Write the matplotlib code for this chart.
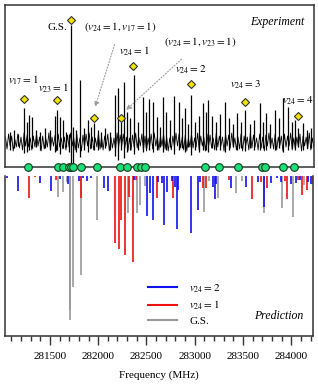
import numpy as np
import matplotlib
matplotlib.use('Agg')
import matplotlib.pyplot as plt
from matplotlib.lines import Line2D
from matplotlib.ticker import MultipleLocator

plt.rcParams['font.family'] = ['Liberation Serif', 'DejaVu Serif']
plt.rcParams['mathtext.fontset'] = 'stix'

# experiment: strong lines (MHz, height above baseline, depth below baseline)
exp_freq = [281087, 281128, 281169, 281231, 281262, 281283, 281314, 281355, 281397, 281448,
            281500, 281552, 281572, 281603, 281634, 281665, 281696, 281717, 281732, 281769,
            281810, 281851, 281893, 281924, 281955, 281996, 282027, 282068, 282120, 282171,
            282202, 282233, 282264, 282295, 282326, 282368, 282409, 282461, 282492, 282523,
            282564, 282605, 282636, 282667, 282698, 282740, 282781, 282833, 282864, 282895,
            282926, 282957, 282998, 283039, 283081, 283112, 283132, 283174, 283215, 283256,
            283308, 283349, 283390, 283432, 283473, 283514, 283566, 283607, 283669, 283700,
            283731, 283773, 283824, 283865, 283907, 283959, 284000, 284031, 284062, 284114,
            284155, 284196]
exp_up = [10, 12, 8, 34, 20, 27, 25, 12, 10, 14,
          12, 26, 32, 25, 22, 10, 8, 117, 15, 12,
          62, 14, 22, 15, 19, 12, 10, 14, 10, 47,
          54, 20, 60, 30, 24, 67, 20, 45, 30, 43,
          40, 25, 15, 45, 30, 22, 46, 40, 24, 34,
          18, 47, 20, 26, 39, 30, 42, 26, 20, 28,
          40, 24, 18, 29, 20, 32, 18, 22, 39, 20,
          29, 18, 32, 24, 44, 35, 20, 22, 14, 19,
          12, 14]
exp_down = [8, 6, 4, 11, 10, 8, 6, 5, 8, 6,
            8, 10, 8, 12, 6, 5, 10, 30, 30, 10,
            15, 8, 10, 6, 8, 8, 5, 6, 8, 14,
            18, 8, 16, 10, 8, 12, 8, 10, 6, 8,
            10, 8, 5, 10, 8, 5, 12, 8, 6, 10,
            5, 13, 8, 10, 8, 8, 10, 6, 8, 8,
            10, 8, 5, 8, 6, 9, 6, 8, 8, 6,
            8, 6, 8, 6, 10, 8, 6, 8, 5, 8,
            6, 6]

# baseline noise of the experimental trace, one value every 16 MHz from 281040 MHz
noise = """
5 -7 8 -4 6 -9 3 -5 8 -6 5 -8 9 -4 7 -5 4 -8 6 -5
8 -4 5 -9 6 -7 4 -5 9 -8 5 -4 7 -9 8 -5 4 -7 5 -8
7 -5 9 -4 5 -8 8 -6 4 -9 7 -5 8 -4 9 -7 5 -8 4 -5
9 -7 5 -8 6 -4 8 -9 5 -6 4 -8 9 -5 7 -4 8 -6 5 -9
4 -8 7 -5 9 -6 5 -4 8 -8 6 -9 4 -5 8 -7 9 -4 5 -8
6 -4 8 -7 5 -9 4 -8 6 -5 9 -4 8 -6 5 -8 7 -9 4 -5
8 -6 4 -5 9 -8 6 -4 5 -9 8 -5 7 -6 4 -8 9 -5 6 -4
5 -9 8 -4 7 -6 9 -5 4 -8 5 -7 8 -9 6 -4 5 -8 9 -6
7 -5 4 -8 8 -6 5 -9 7 -4 9 -5 4 -7 8 -8 5 -4 6 -9
8 -5 6 -4 9 -8 4 -7 5 -5 8 -9 6 -4 5 -7 9 -8 4 -5
"""
noise_vals = [int(v) for v in noise.split()]
noise_start = 281040
noise_step = 16

# line assignments marked in the experiment
mark_freq = [281231, 281572, 281717, 281955, 282233, 282357, 282957, 283514, 284062]
mark_val = [43, 42, 122, 24, 24, 76, 58, 40, 26]

# lines included in the fit (green dots)
fit_freq = [281273, 281583, 281634, 281696, 281717, 281738, 281820, 281986, 282223, 282295,
            282399, 282440, 282481, 283101, 283246, 283442, 283690, 283721, 283907, 284021]

# predicted stick spectrum
gs_freq = [281583, 281634, 281676, 281707, 281712, 281738, 281817, 281986, 282306, 282399,
           282430, 282481, 283101, 283143, 283246, 283432, 283494, 283721, 283907, 284021, 284134]
gs_int = [21, 16, 6, 144, 134, 111, 99, 44, 37, 37,
          29, 10, 36, 5, 22, 17, 5, 37, 32, 41, 9]
v1_freq = [281283, 281345, 281562, 281817, 282171, 282213, 282233, 282275, 282316, 282357,
           282388, 282605, 282771, 283081, 283112, 283360, 283597, 283690, 283752, 283938,
           283959, 284072, 284114, 284165, 284227]
v1_int = [22, 1, 4, 22, 67, 73, 44, 79, 21, 86,
          4, 22, 22, 12, 12, 4, 23, 6, 12, 5,
          23, 4, 19, 14, 8]
v2_freq = [281056, 281169, 281397, 281510, 281603, 281686, 281800, 281841, 281882, 281924,
           282058, 282099, 282368, 282502, 282533, 282564, 282616, 282657, 282678, 282709,
           282760, 282791, 282812, 282822, 282957, 283029, 283050, 283194, 283215, 283225,
           283380, 283535, 283659, 283721, 283793, 283855, 283897, 284000, 284052, 284093,
           284176, 284207]
v2_int = [2, 15, 7, 15, 3, 8, 5, 2, 5, 2,
          12, 15, 4, 40, 17, 44, 6, 7, 49, 16,
          5, 11, 53, 14, 57, 34, 6, 11, 23, 8,
          12, 11, 6, 31, 7, 2, 6, 8, 7, 4,
          6, 8]

xmin, xmax = 281035, 284225

fig = plt.figure(figsize=(3.18, 3.87), dpi=100)
ax1 = fig.add_axes([5 / 318, 220 / 387, 309 / 318, 162 / 387])
ax2 = fig.add_axes([5 / 318, 51 / 387, 308 / 318, 160 / 387])

frame = '#333333'

# ---- experiment ----
nx = noise_start + noise_step * np.arange(len(noise_vals))
ax1.plot(nx, noise_vals, color='black', lw=0.6)
ax1.vlines(exp_freq, [-d for d in exp_down], exp_up, color='black', lw=0.9)
ax1.plot(mark_freq, mark_val, 'D', ms=4, mfc='#f2e400', mec='#333333', mew=0.8)
ax1.plot(fit_freq, [-25] * len(fit_freq), 'o', ms=5.5, mfc='#19e07a', mec='#1a3a1a',
         mew=0.8, clip_on=False, zorder=5)
ax1.set_xlim(xmin, xmax)
ax1.set_ylim(-25, 137)
ax1.set_xticks([])
ax1.set_yticks([])
for s in ax1.spines.values():
    s.set_color(frame)
    s.set_linewidth(1.1)

fs = 8
ax1.text(0.97, 0.895, 'Experiment', transform=ax1.transAxes, ha='right', va='center',
         style='italic', fontsize=fs + 0.5)
ax1.text(281221, 62, r'$v_{17}=1$', ha='center', va='center', fontsize=fs)
ax1.text(281531, 54, r'$v_{23}=1$', ha='center', va='center', fontsize=fs)
ax1.text(281572, 115, 'G.S.', ha='center', va='center', fontsize=fs)
ax1.text(282368, 91, r'$v_{24}=1$', ha='center', va='center', fontsize=fs)
ax1.text(282957, 72, r'$v_{24}=2$', ha='center', va='center', fontsize=fs)
ax1.text(283514, 57, r'$v_{24}=3$', ha='center', va='center', fontsize=fs)
ax1.text(284052, 41, r'$v_{24}=4$', ha='center', va='center', fontsize=fs)
ax1.annotate(r'$(v_{24}=1, v_{17}=1)$', xy=(281965, 35), xytext=(282223, 115),
             ha='center', va='center', fontsize=fs,
             arrowprops=dict(arrowstyle='-|>', ls=':', color='#999999', lw=0.8,
                             shrinkA=6, shrinkB=0, mutation_scale=7))
ax1.annotate(r'$(v_{24}=1, v_{23}=1)$', xy=(282285, 32), xytext=(283050, 100),
             ha='center', va='center', fontsize=fs,
             arrowprops=dict(arrowstyle='-|>', ls=':', color='#999999', lw=0.8,
                             shrinkA=8, shrinkB=0, mutation_scale=7))

# ---- prediction ----
c_gs, c_v1, c_v2 = '#999999', '#ee1111', '#1111ee'
ax2.vlines(gs_freq, [-v for v in gs_int], 0, color=c_gs, lw=1.2)
ax2.vlines(v1_freq, [-v for v in v1_int], 0, color=c_v1, lw=1.2)
ax2.vlines(v2_freq, [-v for v in v2_int], 0, color=c_v2, lw=1.2)
ax2.set_xlim(xmin, xmax)
ax2.set_ylim(-160, 0)
ax2.set_yticks([])
ax2.spines['top'].set_visible(False)
for k in ['left', 'right', 'bottom']:
    ax2.spines[k].set_color(frame)
    ax2.spines[k].set_linewidth(1.1)
ax2.xaxis.set_major_locator(MultipleLocator(500))
ax2.xaxis.set_minor_locator(MultipleLocator(100))
ax2.tick_params(axis='x', which='major', direction='out', length=6.5, width=1,
                color=frame, labelsize=fs, pad=5)
ax2.tick_params(axis='x', which='minor', direction='out', length=3.5, width=1, color=frame)
ax2.set_xticks([281500, 282000, 282500, 283000, 283500, 284000])
ax2.set_xticklabels(['281500', '282000', '282500', '283000', '283500', '284000'])
ax2.set_xlabel('Frequency (MHz)', fontsize=fs, labelpad=7)

handles = [Line2D([], [], color=c_v2, lw=1.5),
           Line2D([], [], color=c_v1, lw=1.5),
           Line2D([], [], color=c_gs, lw=1.5)]
ax2.legend(handles, [r'$v_{24}=2$', r'$v_{24}=1$', 'G.S.'], loc='upper left',
           bbox_to_anchor=(0.44, 0.385), frameon=False, fontsize=fs,
           handlelength=2.6, handletextpad=1.1, labelspacing=0.35, borderpad=0.2)
ax2.text(0.97, 0.125, 'Prediction', transform=ax2.transAxes, ha='right', va='center',
         style='italic', fontsize=fs + 0.5)

fig.savefig('out.png', dpi=100)
